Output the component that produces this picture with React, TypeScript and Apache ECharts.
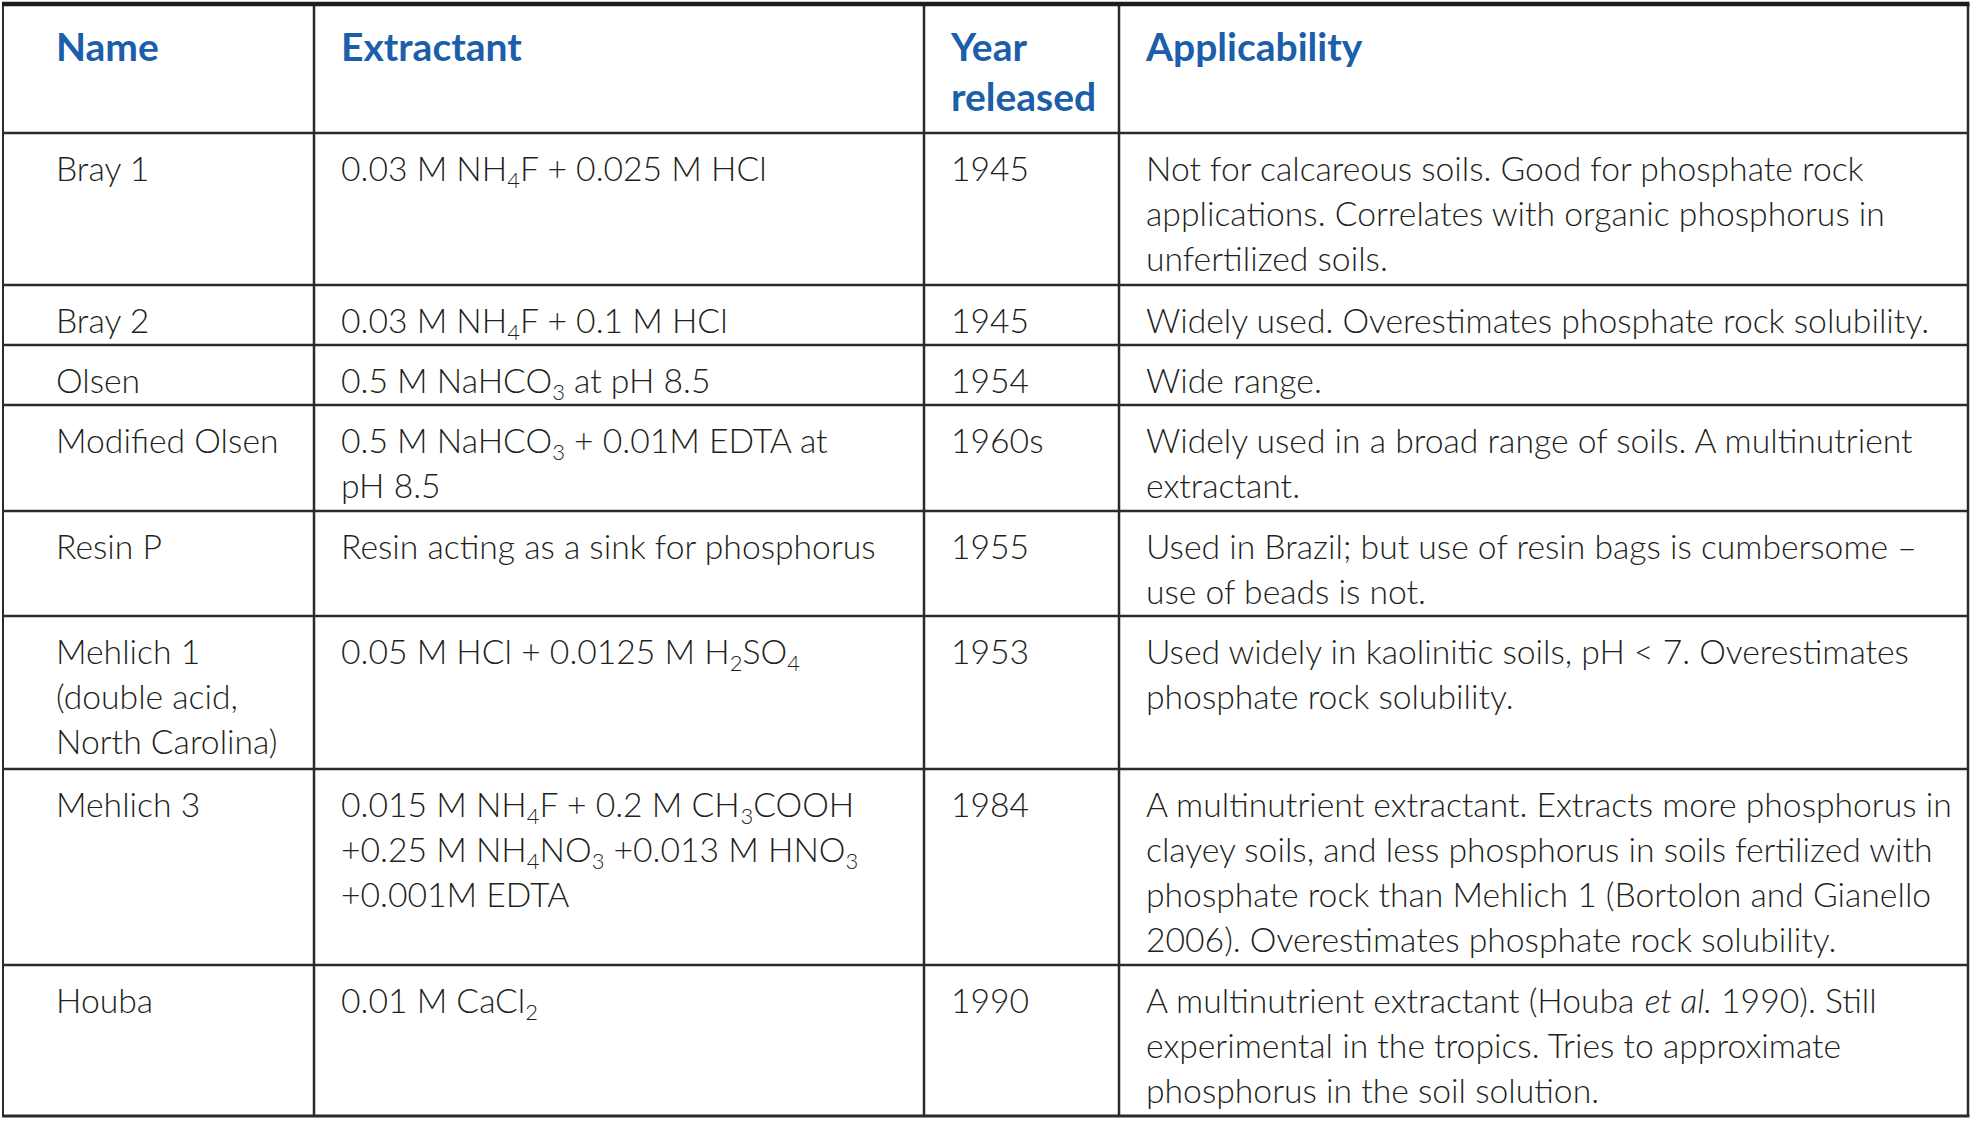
import React, { useEffect, useRef } from "react";
import * as echarts from "echarts";

// ---- table content ----
const headers = ["Name", "Extractant", "Year\nreleased", "Applicability"];

const names = [
  "Bray 1",
  "Bray 2",
  "Olsen",
  "Modified Olsen",
  "Resin P",
  "Mehlich 1\n(double acid,\nNorth Carolina)",
  "Mehlich 3",
  "Houba",
];

// "_n" marks a subscript digit
const extractants = [
  "0.03 M NH_4F + 0.025 M HCl",
  "0.03 M NH_4F + 0.1 M HCl",
  "0.5 M NaHCO_3 at pH 8.5",
  "0.5 M NaHCO_3 + 0.01M EDTA at\npH 8.5",
  "Resin acting as a sink for phosphorus",
  "0.05 M HCl + 0.0125 M H_2SO_4",
  "0.015 M NH_4F + 0.2 M CH_3COOH\n+0.25 M NH_4NO_3 +0.013 M HNO_3\n+0.001M EDTA",
  "0.01 M CaCl_2",
];

const years = ["1945", "1945", "1954", "1960s", "1955", "1953", "1984", "1990"];

const applicability = [
  "Not for calcareous soils. Good for phosphate rock\napplications. Correlates with organic phosphorus in\nunfertilized soils.",
  "Widely used. Overestimates phosphate rock solubility.",
  "Wide range.",
  "Widely used in a broad range of soils. A multinutrient\nextractant.",
  "Used in Brazil; but use of resin bags is cumbersome –\nuse of beads is not.",
  "Used widely in kaolinitic soils, pH < 7. Overestimates\nphosphate rock solubility.",
  "A multinutrient extractant. Extracts more phosphorus in\nclayey soils, and less phosphorus in soils fertilized with\nphosphate rock than Mehlich 1 (Bortolon and Gianello\n2006). Overestimates phosphate rock solubility.",
  "A multinutrient extractant (Houba *et al.* 1990). Still\nexperimental in the tropics. Tries to approximate\nphosphorus in the soil solution.",
];

// ---- layout ----
const W = 1972;
const H = 1121;
const colX = [3, 314, 924, 1119, 1968];
const rowY = [4, 133, 285, 345, 405, 511, 616, 769, 965, 1116];
const textX = [56, 341, 951, 1146];

const FONT = "Lato, 'Open Sans', sans-serif";
const FS = 33.7;
const LH = 45;
const HFS = 39;
const HLH = 50;
const TEXT = "#231f20";
const BLUE = "#1b5eaa";
const LINE = "#2b2b2b";

function toRich(s: string): string {
  return s
    .replace(/_(\d)/g, "{s|$1}")
    .replace(/\*([^*]+)\*/g, "{i|$1}");
}

const rich = {
  s: { fontSize: 22, lineHeight: 24, verticalAlign: "bottom", fill: TEXT, fontFamily: FONT, fontWeight: 300 },
  i: { fontStyle: "italic", fontSize: FS, lineHeight: LH, fill: TEXT, fontFamily: FONT, fontWeight: 300 },
};

export default function App() {
  const ref = useRef<HTMLDivElement>(null);
  useEffect(() => {
    if (!ref.current) return;
    const chart = echarts.init(ref.current, null, { renderer: "svg" });
    const elements: any[] = [];

    // horizontal rules
    for (let r = 1; r < rowY.length - 1; r++) {
      elements.push({
        type: "line",
        shape: { x1: colX[0], y1: rowY[r], x2: colX[4], y2: rowY[r] },
        style: { stroke: LINE, lineWidth: 2.5 },
      });
    }
    // vertical rules
    for (let c = 0; c < colX.length; c++) {
      elements.push({
        type: "line",
        shape: { x1: colX[c], y1: rowY[0], x2: colX[c], y2: rowY[rowY.length - 1] },
        style: { stroke: LINE, lineWidth: c === 0 ? 2 : 2.5 },
      });
    }
    // top and bottom borders
    elements.push({
      type: "line",
      shape: { x1: colX[0] - 1, y1: rowY[0], x2: colX[4] + 1.5, y2: rowY[0] },
      style: { stroke: "#1e1c1c", lineWidth: 4.5 },
    });
    elements.push({
      type: "line",
      shape: { x1: colX[0] - 1, y1: rowY[rowY.length - 1], x2: colX[4] + 1.5, y2: rowY[rowY.length - 1] },
      style: { stroke: LINE, lineWidth: 3 },
    });

    // header texts
    headers.forEach((h, c) => {
      elements.push({
        type: "text",
        style: {
          text: h,
          x: textX[c],
          y: 46 - HLH / 2,
          fill: BLUE,
          fontFamily: FONT,
          fontWeight: "bold",
          fontSize: HFS,
          lineHeight: HLH,
          verticalAlign: "top",
          align: "left",
        },
      });
    });

    // body texts
    const cols = [names, extractants, years, applicability];
    for (let r = 0; r < names.length; r++) {
      const top = rowY[r + 1] + 35 - LH / 2;
      cols.forEach((col, c) => {
        elements.push({
          type: "text",
          style: {
            text: toRich(col[r]),
            x: textX[c],
            y: top,
            fill: TEXT,
            fontFamily: FONT,
            fontWeight: 300,
            fontSize: FS,
            lineHeight: LH,
            verticalAlign: "top",
            align: "left",
            rich,
          },
        });
      });
    }

    chart.setOption({
      animation: false,
      backgroundColor: "#ffffff",
      graphic: { elements },
    });
    return () => chart.dispose();
  }, []);

  return (
    <div
      ref={ref}
      style={{ position: "fixed", left: 0, top: 0, width: W, height: H, background: "#fff" }}
    />
  );
}
